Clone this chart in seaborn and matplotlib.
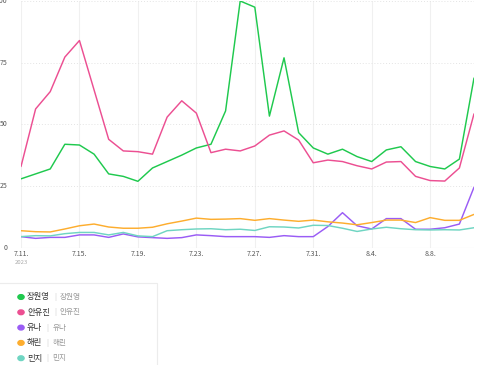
import matplotlib
matplotlib.use("Agg")
import matplotlib.pyplot as plt
import matplotlib.patches as mpatches
import seaborn as sns
import pandas as pd
import numpy as np

dates = ["7.11", "7.12", "7.13", "7.14", "7.15", "7.16", "7.17", "7.18", "7.19", "7.20",
         "7.21", "7.22", "7.23", "7.24", "7.25", "7.26", "7.27", "7.28", "7.29", "7.30",
         "7.31", "8.1", "8.2", "8.3", "8.4", "8.5", "8.6", "8.7", "8.8", "8.9", "8.10", "8.11"]

names = ["장원영", "안유진", "유나", "해린", "민지"]
colors = ["#1fc94e", "#ec4f92", "#9a5cf5", "#fdad2e", "#6fd5c2"]

wonyoung = [28, 30, 32, 42, 41.7, 38, 30, 29, 27, 32.4, 35, 37.6, 40.5, 42, 55.5, 100,
            97.5, 53.4, 77, 46.7, 40.5, 38, 40, 37, 35, 39.7, 41, 35, 33, 32, 36, 68.8]
yujin = [33, 56.3, 63.3, 77.3, 84, 64, 44, 39.3, 39, 38, 53, 59.6, 54.6, 38.6, 40, 39.3,
         41.3, 45.7, 47.4, 43.7, 34.5, 35.6, 35, 33.3, 32, 34.8, 35, 29, 27.3, 27.1, 32.4, 54.3]
yuna = [4.6, 3.9, 4.3, 4.3, 5.3, 5.3, 4.3, 5.7, 4.5, 4.2, 3.9, 4.2, 5.3, 5.0, 4.6, 4.6,
        4.6, 4.3, 5.0, 4.6, 4.6, 8.7, 14.3, 9.0, 7.7, 11.9, 11.9, 7.6, 7.6, 8.2, 9.7, 24.6]
haerin = [7.0, 6.6, 6.5, 7.7, 9.0, 9.7, 8.5, 8.0, 8.0, 8.4, 9.8, 10.9, 12.1, 11.6, 11.7, 11.9,
          11.2, 11.9, 11.3, 10.8, 11.3, 10.6, 10.1, 9.4, 10.3, 11.3, 11.3, 10.3, 12.3, 11.2, 11.2, 13.6]
minji = [4.6, 5.0, 4.9, 5.8, 6.3, 6.3, 5.3, 6.3, 4.9, 4.6, 7.0, 7.4, 7.7, 7.8, 7.4, 7.6,
         7.1, 8.6, 8.5, 8.1, 9.2, 9.1, 8.0, 6.7, 7.7, 8.4, 7.8, 7.4, 7.3, 7.4, 7.3, 8.2]

tick_labels = ["7.11.", "7.15.", "7.19.", "7.23.", "7.27.", "7.31.", "8.4.", "8.8."]
tick_pos = [0, 4, 8, 12, 16, 20, 24, 28]
yticks = [0, 25, 50, 75, 100]

series = [wonyoung, yujin, yuna, haerin, minji]
rows = []
for n, vals in zip(names, series):
    for i, v in enumerate(vals):
        rows.append({"idx": i, "date": dates[i], "value": v, "name": n})
df = pd.DataFrame(rows)

sns.set_theme(style="white")
plt.rcParams["font.family"] = ["Noto Sans CJK KR", "DejaVu Sans"]

fig = plt.figure(figsize=(4.8, 3.65), dpi=100)
ax = fig.add_axes([21/480, 1 - 248/365, (474 - 21)/480, 247/365])

sns.lineplot(data=df, x="idx", y="value", hue="name", palette=colors,
             hue_order=names, linewidth=1.05, ax=ax, legend=False, zorder=3)

ax.set_xlim(0, len(dates) - 1)
ax.set_ylim(0, 100)
ax.set_xticks(tick_pos)
ax.set_xticklabels(tick_labels)
ax.set_yticks(yticks)
ax.set_yticklabels([str(t) for t in yticks])
ax.tick_params(axis="both", length=0, labelsize=5, colors="#555555")
ax.tick_params(axis="x", pad=1.5)
ax.tick_params(axis="y", pad=10)
for lab in ax.get_yticklabels():
    lab.set_verticalalignment("center")
ax.set_xlabel("")
ax.set_ylabel("")
for s in ax.spines.values():
    s.set_visible(False)

for p in tick_pos:
    ax.axvline(p, color="#f0f0f0", lw=0.8, zorder=0)
for t in yticks[1:]:
    ax.axhline(t, color="#e4e4e4", lw=0.7, ls=(0, (1, 2)), zorder=0)
ax.axhline(0, color="#ececec", lw=0.8, zorder=0)

fig.text(21/480, 1 - 262.5/365, "2023", fontsize=4.3, color="#aaaaaa", ha="center", va="center")

# legend box
fig.patches.append(mpatches.Rectangle((-2/480, -0.01), 159/480, 1.01 - 283/365,
                                      transform=fig.transFigure, fill=False,
                                      edgecolor="#ececec", lw=0.8))

fig.canvas.draw()
renderer = fig.canvas.get_renderer()
ys = [297, 312.3, 327.6, 342.9, 358.2]
for n, c, yp in zip(names, colors, ys):
    yf = 1 - yp/365
    fig.patches.append(mpatches.Circle((21/480, yf), 3.1/480, transform=fig.transFigure,
                                       color=c))
    t1 = fig.text(27/480, yf, n, fontsize=6, color="#333333", ha="left", va="center")
    bb = t1.get_window_extent(renderer)
    x2 = bb.x1 + 4
    t2 = fig.text(x2/480, yf, "|", fontsize=5.5, color="#cccccc", ha="left", va="center")
    bb2 = t2.get_window_extent(renderer)
    fig.text((bb2.x1 + 4)/480, yf, n, fontsize=5.5, color="#999999", ha="left", va="center")

fig.savefig("out.png", dpi=100)
